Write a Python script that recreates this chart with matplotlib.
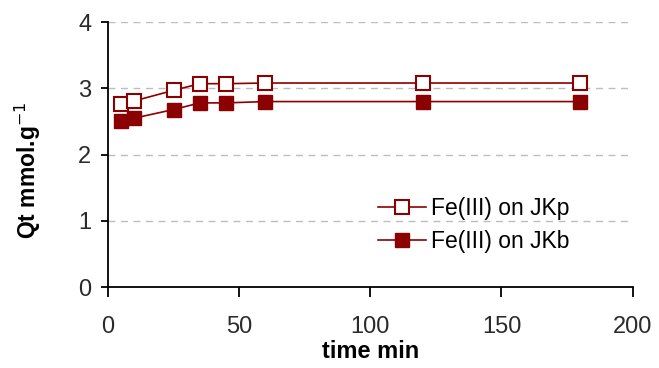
import matplotlib
matplotlib.use("Agg")
import matplotlib.pyplot as plt

plt.rcParams['font.family'] = ['Liberation Sans', 'DejaVu Sans']

time = [5, 10, 25, 35, 45, 60, 120, 180]
jkp = [2.77, 2.81, 2.97, 3.07, 3.07, 3.08, 3.08, 3.08]
jkb = [2.51, 2.55, 2.68, 2.78, 2.78, 2.80, 2.80, 2.80]
xticks = [0, 50, 100, 150, 200]
yticks = [0, 1, 2, 3, 4]

color = '#8B0000'

fig = plt.figure(figsize=(6.59, 3.68), dpi=100)
ax = fig.add_axes([0.164, 0.22, 0.796, 0.72])

ax.plot(time, jkp, '-s', color=color, mfc='white', mec=color, mew=1.5,
        ms=9.5, lw=1.2, label='Fe(III) on JKp', zorder=3)
ax.plot(time, jkb, '-s', color=color, mfc=color, mec=color,
        ms=9.5, lw=1.2, label='Fe(III) on JKb', zorder=3)

ax.set_xlim(0, 200)
ax.set_ylim(0, 4)
ax.set_xticks(xticks)
ax.set_yticks(yticks)
ax.grid(axis='y', color='#bdbdbd', linestyle=(0, (5, 4)), lw=1)
ax.set_axisbelow(True)
for s in ['top', 'right']:
    ax.spines[s].set_visible(False)
ax.spines['left'].set_linewidth(1.3)
ax.spines['bottom'].set_linewidth(1.3)
ax.tick_params(direction='out', width=1.3, labelsize=17, colors='black',
               labelcolor='#2a2a2a')
ax.tick_params(axis='x', length=7, pad=14)
ax.tick_params(axis='y', length=5, pad=7)

ax.set_xlabel('time min', fontsize=17, fontweight='bold')
ax.set_ylabel('Qt mmol.g$^{-1}$', fontsize=16.5, fontweight='bold')
ax.xaxis.set_label_coords(0.5, -0.2)
ax.yaxis.set_label_coords(-0.125, 0.44)

ax.legend(loc='center left', bbox_to_anchor=(0.515, 0.234), frameon=False,
          borderaxespad=0, borderpad=0,
          fontsize=16.5, handlelength=2.1, handletextpad=0.22, labelspacing=0.4)

fig.savefig('out.png', dpi=100)
